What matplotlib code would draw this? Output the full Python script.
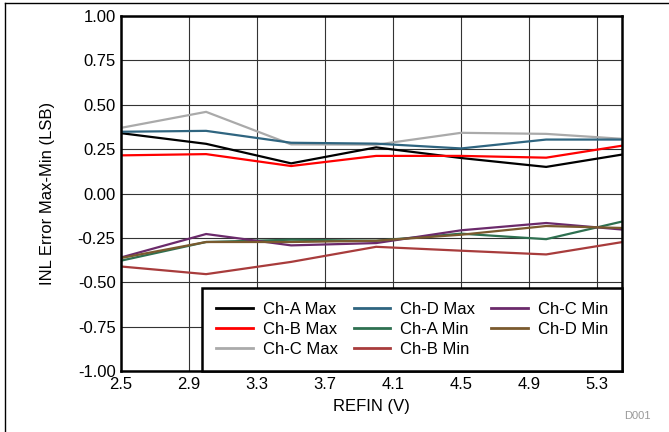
import matplotlib.pyplot as plt
from matplotlib.lines import Line2D

plt.rcParams['font.family'] = ['Liberation Sans', 'DejaVu Sans']

refin = [2.5, 3.0, 3.5, 4.0, 4.5, 5.0, 5.45]

cha_max = [0.34, 0.28, 0.17, 0.26, 0.20, 0.15, 0.22]
chb_max = [0.215, 0.222, 0.155, 0.212, 0.212, 0.202, 0.27]
chc_max = [0.37, 0.46, 0.277, 0.275, 0.342, 0.336, 0.308]
chd_max = [0.348, 0.353, 0.286, 0.281, 0.254, 0.304, 0.304]
cha_min = [-0.378, -0.273, -0.26, -0.266, -0.226, -0.257, -0.157]
chb_min = [-0.411, -0.454, -0.385, -0.30, -0.322, -0.343, -0.273]
chc_min = [-0.36, -0.228, -0.292, -0.279, -0.207, -0.166, -0.203]
chd_min = [-0.363, -0.273, -0.273, -0.266, -0.232, -0.183, -0.194]

labels = ['Ch-A Max', 'Ch-B Max', 'Ch-C Max', 'Ch-D Max',
          'Ch-A Min', 'Ch-B Min', 'Ch-C Min', 'Ch-D Min']
series = [cha_max, chb_max, chc_max, chd_max, cha_min, chb_min, chc_min, chd_min]
colors = ['#000000', '#ff0000', '#aaaaaa', '#2f6580',
          '#2e7050', '#a83c3c', '#6b2a6b', '#7a5a2e']

fig = plt.figure(figsize=(6.69, 4.32), dpi=100)
ax = fig.add_axes([0.181, 0.141, 0.749, 0.822])

for vals, col, lab in zip(series, colors, labels):
    ax.plot(refin, vals, color=col, linewidth=1.6, label=lab, solid_joinstyle='miter')

ax.set_xlim(2.5, 5.447)
ax.set_ylim(-1.0, 1.0)
ax.set_xticks([2.5, 2.9, 3.3, 3.7, 4.1, 4.5, 4.9, 5.3])
ax.set_xticklabels(['2.5', '2.9', '3.3', '3.7', '4.1', '4.5', '4.9', '5.3'])
ax.set_yticks([-1.0, -0.75, -0.5, -0.25, 0.0, 0.25, 0.5, 0.75, 1.0])
ax.set_yticklabels([f'{v:.2f}' for v in ax.get_yticks()])
ax.tick_params(length=0, labelsize=12, pad=4)
ax.grid(True, color='#333333', linewidth=0.8)
ax.set_axisbelow(True)
for sp in ax.spines.values():
    sp.set_linewidth(1.8)
    sp.set_color('black')

ax.set_xlabel('REFIN (V)', fontsize=12, labelpad=5)
ax.set_ylabel('INL Error Max-Min (LSB)', fontsize=12, labelpad=16)

handles = [Line2D([0], [0], color=c, linewidth=2) for c in colors]
leg = ax.legend(handles, labels, ncol=3, loc='lower right', fontsize=12,
                frameon=True, fancybox=False, framealpha=1, edgecolor='black',
                borderaxespad=0, handlelength=2.2, handletextpad=0.6,
                columnspacing=0.95, labelspacing=0.3, borderpad=0.85)
leg.get_frame().set_linewidth(1.8)

fig.text(0.972, 0.025, 'D001', fontsize=8, color='#999999', ha='right', va='bottom')

# outer border of the figure
fig.add_artist(Line2D([0.008, 0.008], [0, 0.993], color='black', linewidth=1, transform=fig.transFigure))
fig.add_artist(Line2D([0.008, 1], [0.993, 0.993], color='black', linewidth=1, transform=fig.transFigure))

fig.savefig('out.png', dpi=100)
